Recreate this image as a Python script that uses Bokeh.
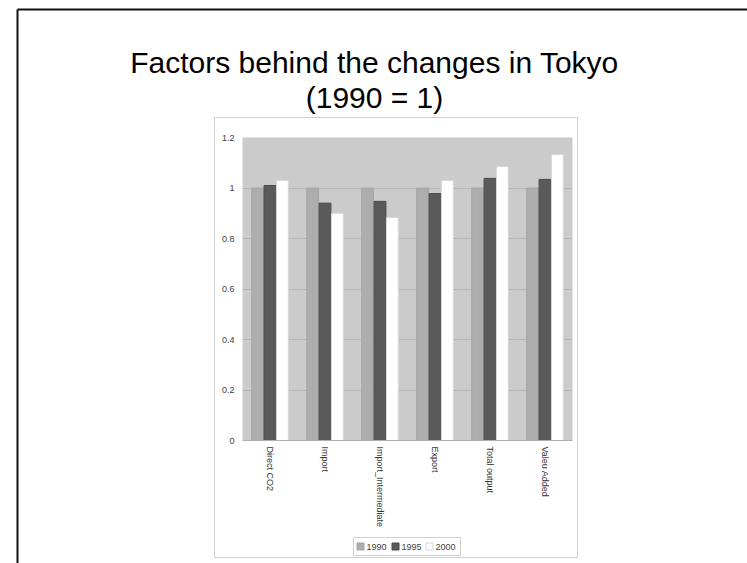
from bokeh.plotting import figure
from bokeh.models import Range1d, FactorRange, ColumnDataSource, FixedTicker, LinearScale
from bokeh.transform import dodge
from bokeh.core.properties import value
from bokeh.embed import file_html
from bokeh.resources import INLINE

# ---- data ----
categories = ["Direct CO2", "Import", "Import_Intermediate", "Export", "Total output", "Valeu Added"]
v1990 = [1.0, 1.0, 1.0, 1.0, 1.0, 1.0]
v1995 = [1.01, 0.94, 0.947, 0.978, 1.038, 1.034]
v2000 = [1.03, 0.90, 0.883, 1.03, 1.085, 1.133]
years = ["1990", "1995", "2000"]
y_ticks = [0.0, 0.2, 0.4, 0.6, 0.8, 1.0, 1.2]
y_tick_labels = ["0", "0.2", "0.4", "0.6", "0.8", "1", "1.2"]
title_lines = ["Factors behind the changes in Tokyo", "(1990 = 1)"]

FONT = "Liberation Sans"
W, H = 747, 563
FILLS = ["#adadad", "#5a5a5a", "#ffffff"]
LINES = ["#a5a5a5", "#4a4a4a", "#d8d8d8"]
# frame position in page coordinates
FL, FR, FT, FB = 242, 572, 137, 440
NC = len(categories)


def sx(px):
    # page x -> synthetic categorical coordinate of the x range
    return (px - FL) / (FR - FL) * NC


p = figure(
    width=W, height=H,
    x_range=FactorRange(*categories), y_range=Range1d(0, 1.2),
    output_backend="svg", toolbar_location=None,
    min_border_left=FL, min_border_right=W - FR,
    min_border_top=FT, min_border_bottom=H - FB,
)
p.extra_y_ranges = {"px": Range1d(start=FB, end=FT)}
p.extra_y_scales = {"px": LinearScale()}

p.background_fill_color = "#cbcbcb"
p.border_fill_color = "white"
p.outline_line_color = None

src = ColumnDataSource(dict(cat=categories, v1990=v1990, v1995=v1995, v2000=v2000))
for off, col, fc, lc in zip([-0.225, 0.0, 0.225], ["v1990", "v1995", "v2000"], FILLS, LINES):
    p.vbar(x=dodge("cat", off, range=p.x_range), top=col, width=0.215, source=src,
           fill_color=fc, line_color=lc)

# grid
p.xgrid.grid_line_color = None
p.ygrid.grid_line_color = "#b6b6b6"
p.ygrid.ticker = FixedTicker(ticks=y_ticks)

# y axis
p.yaxis.ticker = FixedTicker(ticks=y_ticks)
p.yaxis.major_label_overrides = {t: l for t, l in zip(y_ticks, y_tick_labels)}
p.yaxis.axis_line_color = None
p.yaxis.major_tick_line_color = None
p.yaxis.major_tick_out = 0
p.yaxis.major_tick_in = 0
p.yaxis.minor_tick_line_color = None
p.yaxis.major_label_standoff = 8
p.yaxis.major_label_text_font = FONT
p.yaxis.major_label_text_font_size = "9px"
p.yaxis.major_label_text_color = "#404040"

# x axis
p.xaxis.axis_line_color = "#b0b0b0"
p.xaxis.major_tick_line_color = None
p.xaxis.major_tick_out = 0
p.xaxis.major_tick_in = 0
p.xaxis.minor_tick_line_color = None
p.xaxis.major_label_orientation = "vertical"
p.xaxis.major_label_standoff = 6
p.xaxis.major_label_text_font = FONT
p.xaxis.major_label_text_font_size = "9px"
p.xaxis.major_label_text_color = "#333333"

# decorations in page coordinates (not clipped: overlay level)
kw = dict(y_range_name="px", level="overlay")
# slide frame: top and left edges
p.segment(x0=[sx(17), sx(17)], y0=[9, 9], x1=[sx(747), sx(17)], y1=[9, 563],
          line_color="#111111", line_width=2, **kw)
# embedded chart box
p.rect(x=[sx((214 + 577) / 2)], y=[(117 + 557) / 2], width=[sx(577) - sx(214)], height=[557 - 117],
       fill_color=None, line_color="#cfcfcf", line_width=1, **kw)

# legend
p.rect(x=[sx((353 + 460) / 2)], y=[(537 + 555) / 2], width=[sx(460) - sx(353)], height=[555 - 537],
       fill_color="white", line_color="#d0d0d0", line_width=1, **kw)
leg_x = [360, 395, 429]
p.rect(x=[sx(v) for v in leg_x], y=[546] * 3, width=[sx(7) - sx(0)] * 3, height=[7] * 3,
       fill_color=FILLS, line_color=LINES, **kw)
p.text(x=[sx(v + 6) for v in leg_x], y=[546] * 3, text=years, text_align="left",
       text_baseline="middle", text_font=value(FONT), text_font_size="9px",
       text_color="#404040", **kw)

# title
p.text(x=[sx(374), sx(374)], y=[62, 97], text=title_lines, text_align="center",
       text_baseline="middle", text_font=value(FONT), text_font_size="30px",
       text_color="#000000", **kw)

open("out.html", "w").write(file_html(p, INLINE))
